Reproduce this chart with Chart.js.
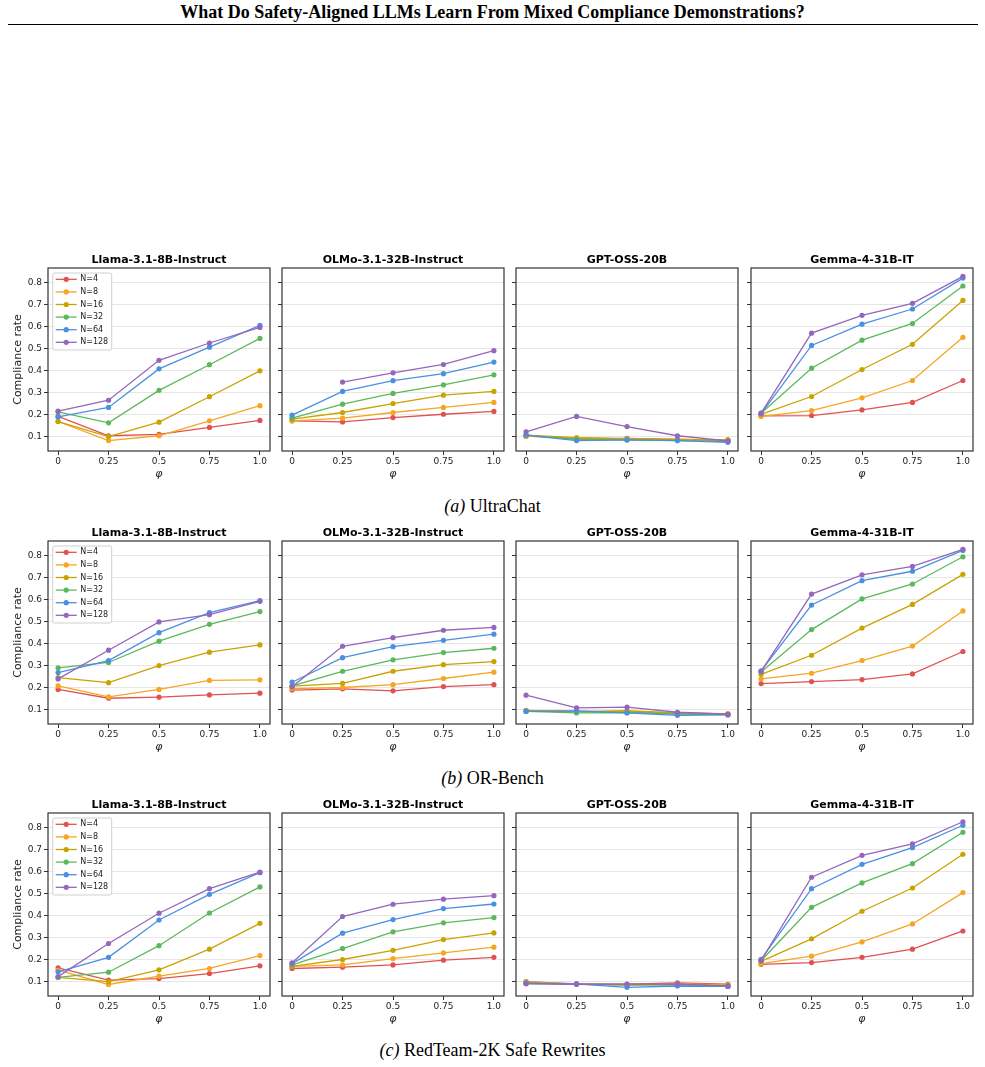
<!DOCTYPE html>
<html lang="en">
<head>
<meta charset="utf-8">
<title>Mixed Compliance Demonstrations</title>
<script src="https://cdn.jsdelivr.net/npm/chart.js@4.4.1/dist/chart.umd.min.js"></script>
<style>
body { margin: 0; background: #fff; }
#page { position: relative; width: 985px; height: 1067px; overflow: hidden; background: #fff; }
.head { position: absolute; left: 0; top: 2px; width: 985px; text-align: center; font-family: "Liberation Serif", serif; font-weight: bold; font-size: 18px; color: #000; }
.rule { position: absolute; left: 8px; top: 24px; width: 970px; border-top: 1.5px solid #000; }
.cap { position: absolute; left: 0; width: 985px; text-align: center; font-family: "Liberation Serif", serif; font-size: 18px; color: #000; }
canvas.panel { position: absolute; }
</style>
</head>
<body>
<div id="page">
  <div class="head">What Do Safety-Aligned LLMs Learn From Mixed Compliance Demonstrations?</div>
  <div class="rule"></div>
  <div class="cap" style="top:496px"><i>(a)</i> UltraChat</div>
  <div class="cap" style="top:768px"><i>(b)</i> OR-Bench</div>
  <div class="cap" style="top:1040px"><i>(c)</i> RedTeam-2K Safe Rewrites</div>
</div>
<script>
// x values and labels
const phi = [0, 0.25, 0.5, 0.75, 1.0];
const phiLabels = ['0', '0.25', '0.5', '0.75', '1.0'];
const yTicks = [0.1, 0.2, 0.3, 0.4, 0.5, 0.6, 0.7, 0.8];
const seriesNames = ['N=4', 'N=8', 'N=16', 'N=32', 'N=64', 'N=128'];
const seriesColors = ['#e05252', '#f5a623', '#c9a300', '#5cb85c', '#4a90e2', '#9467bd'];
const modelNames = ['Llama-3.1-8B-Instruct', 'OLMo-3.1-32B-Instruct', 'GPT-OSS-20B', 'Gemma-4-31B-IT'];

// (a) UltraChat  -- one row per N, one column per phi
const uc_llama = [
  [0.190, 0.102, 0.108, 0.140, 0.172],
  [0.167, 0.080, 0.102, 0.170, 0.239],
  [0.167, 0.098, 0.164, 0.280, 0.398],
  [0.211, 0.161, 0.309, 0.426, 0.546],
  [0.188, 0.231, 0.407, 0.506, 0.605],
  [0.214, 0.264, 0.446, 0.525, 0.596]
];
const uc_olmo = [
  [0.170, 0.165, 0.185, 0.200, 0.213],
  [0.170, 0.182, 0.208, 0.231, 0.254],
  [0.178, 0.208, 0.249, 0.287, 0.304],
  [0.182, 0.246, 0.295, 0.334, 0.380],
  [0.196, 0.304, 0.353, 0.385, 0.438],
  [null, 0.347, 0.389, 0.427, 0.490]
];
const uc_gpt = [
  [0.100, 0.090, 0.090, 0.085, 0.080],
  [0.100, 0.092, 0.088, 0.085, 0.083],
  [0.105, 0.093, 0.088, 0.085, 0.083],
  [0.105, 0.085, 0.083, 0.080, 0.075],
  [0.105, 0.080, 0.083, 0.080, 0.072],
  [0.120, 0.190, 0.144, 0.102, 0.079]
];
const uc_gemma = [
  [0.193, 0.194, 0.220, 0.254, 0.354],
  [0.190, 0.217, 0.275, 0.354, 0.551],
  [0.200, 0.281, 0.404, 0.519, 0.719],
  [0.205, 0.410, 0.538, 0.614, 0.785],
  [0.202, 0.514, 0.611, 0.680, 0.821],
  [0.205, 0.570, 0.651, 0.706, 0.829]
];

// (b) OR-Bench
const or_llama = [
  [0.190, 0.150, 0.155, 0.165, 0.173],
  [0.206, 0.156, 0.190, 0.231, 0.234],
  [0.244, 0.221, 0.299, 0.360, 0.393],
  [0.288, 0.313, 0.410, 0.487, 0.545],
  [0.267, 0.322, 0.449, 0.540, 0.595],
  [0.238, 0.369, 0.498, 0.531, 0.592]
];
const or_olmo = [
  [0.187, 0.193, 0.184, 0.203, 0.212],
  [0.194, 0.199, 0.212, 0.240, 0.269],
  [0.205, 0.218, 0.273, 0.303, 0.317],
  [0.206, 0.273, 0.325, 0.358, 0.378],
  [0.223, 0.335, 0.385, 0.414, 0.442],
  [0.202, 0.387, 0.426, 0.460, 0.473]
];
const or_gpt = [
  [0.093, 0.090, 0.088, 0.080, 0.078],
  [0.094, 0.090, 0.090, 0.082, 0.080],
  [0.095, 0.088, 0.093, 0.083, 0.078],
  [0.090, 0.083, 0.085, 0.078, 0.075],
  [0.090, 0.092, 0.083, 0.072, 0.074],
  [0.164, 0.106, 0.109, 0.086, 0.077]
];
const or_gemma = [
  [0.217, 0.226, 0.235, 0.261, 0.363],
  [0.238, 0.264, 0.322, 0.388, 0.548],
  [0.259, 0.346, 0.470, 0.578, 0.715],
  [0.270, 0.463, 0.603, 0.671, 0.795],
  [0.275, 0.575, 0.686, 0.729, 0.824],
  [0.272, 0.625, 0.713, 0.751, 0.829]
];

// (c) RedTeam-2K Safe Rewrites
const rt_llama = [
  [0.161, 0.105, 0.112, 0.135, 0.170],
  [0.150, 0.085, 0.123, 0.158, 0.217],
  [0.117, 0.098, 0.152, 0.246, 0.364],
  [0.117, 0.141, 0.262, 0.411, 0.530],
  [0.143, 0.209, 0.379, 0.496, 0.595],
  [0.121, 0.272, 0.410, 0.522, 0.597]
];
const rt_olmo = [
  [0.158, 0.164, 0.174, 0.196, 0.209],
  [0.168, 0.174, 0.203, 0.229, 0.255],
  [0.168, 0.199, 0.241, 0.290, 0.320],
  [0.174, 0.249, 0.325, 0.366, 0.390],
  [0.180, 0.319, 0.381, 0.431, 0.452],
  [0.184, 0.395, 0.451, 0.474, 0.490]
];
const rt_gpt = [
  [0.098, 0.088, 0.086, 0.092, 0.086],
  [0.097, 0.086, 0.083, 0.088, 0.083],
  [0.095, 0.087, 0.082, 0.085, 0.080],
  [0.092, 0.087, 0.085, 0.083, 0.080],
  [0.090, 0.088, 0.072, 0.078, 0.076],
  [0.088, 0.086, 0.087, 0.088, 0.076]
];
const rt_gemma = [
  [0.177, 0.185, 0.209, 0.246, 0.329],
  [0.180, 0.214, 0.279, 0.361, 0.504],
  [0.190, 0.293, 0.419, 0.525, 0.679],
  [0.193, 0.437, 0.548, 0.636, 0.779],
  [0.200, 0.522, 0.633, 0.709, 0.811],
  [0.194, 0.574, 0.674, 0.726, 0.827]
];

const rows = [
  [uc_llama, uc_olmo, uc_gpt, uc_gemma],
  [or_llama, or_olmo, or_gpt, or_gemma],
  [rt_llama, rt_olmo, rt_gpt, rt_gemma]
];

Chart.defaults.font.family = '"DejaVu Sans", sans-serif';
Chart.defaults.color = '#222';

// layout of the grid (plot frames)
const colLeft = [48, 282, 516, 751];
const rowTop = [268, 541, 813];
const plotW = 222, plotH = 183;
const titleH = 19, xAxisH = 29, padRight = 4;
const yMin = 0.0325, yMax = 0.867;

// box round the plot area, like matplotlib spines
const frame = {
  id: 'frame',
  afterDraw(chart) {
    const a = chart.chartArea, c = chart.ctx;
    c.save();
    c.strokeStyle = '#333';
    c.lineWidth = 1.2;
    c.strokeRect(a.left, a.top, a.right - a.left, a.bottom - a.top);
    c.restore();
  }
};

// legend in the upper left corner of the plot
const insetLegend = {
  id: 'insetLegend',
  afterDatasetsDraw(chart, args, opts) {
    if (!opts.show) return;
    const a = chart.chartArea, c = chart.ctx;
    const x0 = a.left + 4.7, y0 = a.top + 5, w = 59, h = 77;
    c.save();
    c.fillStyle = 'rgba(255,255,255,0.85)';
    c.strokeStyle = '#d0d0d0';
    c.lineWidth = 1;
    c.beginPath();
    c.roundRect(x0, y0, w, h, 2);
    c.fill();
    c.stroke();
    c.font = '8px "DejaVu Sans"';
    c.textBaseline = 'middle';
    chart.data.datasets.forEach((ds, i) => {
      const yy = y0 + 6.3 + i * 12.6;
      c.strokeStyle = ds.borderColor;
      c.lineWidth = 1.3;
      c.beginPath(); c.moveTo(x0 + 3, yy); c.lineTo(x0 + 24, yy); c.stroke();
      c.fillStyle = ds.borderColor;
      c.beginPath(); c.arc(x0 + 13.5, yy, 2.6, 0, Math.PI * 2); c.fill();
      c.fillStyle = '#222';
      c.fillText(ds.label, x0 + 27.5, yy);
    });
    c.restore();
  }
};

const page = document.getElementById('page');

function makePanel(row, col, values) {
  const yW = col === 0 ? 48 : 6;
  const cv = document.createElement('canvas');
  cv.className = 'panel';
  cv.width = yW + plotW + padRight;
  cv.height = titleH + plotH + xAxisH;
  cv.style.left = (colLeft[col] - yW) + 'px';
  cv.style.top = (rowTop[row] - titleH) + 'px';
  page.appendChild(cv);

  new Chart(cv, {
    type: 'line',
    data: {
      datasets: seriesNames.map((name, i) => ({
        label: name,
        data: phi.map((x, j) => ({ x: x, y: values[i][j] })),
        borderColor: seriesColors[i],
        backgroundColor: seriesColors[i],
        borderWidth: 1.3,
        pointRadius: 2.6,
        pointBorderWidth: 0,
        pointHoverRadius: 2.6,
        order: seriesNames.length - i
      }))
    },
    options: {
      responsive: false,
      animation: false,
      devicePixelRatio: 1,
      events: [],
      layout: { padding: { left: 0, right: padRight, top: 0, bottom: 0 } },
      plugins: {
        legend: { display: false },
        tooltip: { enabled: false },
        title: {
          display: true, text: modelNames[col], color: '#000', fullSize: false,
          font: { size: 11, weight: 'bold', lineHeight: '14px' },
          padding: { top: 4, bottom: 1 }
        },
        insetLegend: { show: col === 0 }
      },
      scales: {
        x: {
          type: 'linear', min: -0.05, max: 1.05,
          afterBuildTicks: s => { s.ticks = phi.map(v => ({ value: v })); },
          afterFit: s => { s.height = xAxisH; },
          ticks: {
            callback: v => phiLabels[phi.indexOf(v)],
            font: { size: 9 }, color: '#222', padding: 1, maxRotation: 0, autoSkip: false
          },
          grid: { drawOnChartArea: false, drawTicks: true, tickLength: 4, tickColor: '#333', tickWidth: 1 },
          border: { display: false },
          title: {
            display: true, text: 'φ', color: '#222',
            font: { size: 11, style: 'italic', lineHeight: '12px' },
            padding: { top: 0, bottom: 0 }
          }
        },
        y: {
          min: yMin, max: yMax,
          afterBuildTicks: s => { s.ticks = yTicks.map(v => ({ value: v })); },
          afterFit: s => { s.width = yW; },
          ticks: {
            display: col === 0,
            callback: v => v.toFixed(1),
            font: { size: 9 }, color: '#222', padding: 2
          },
          grid: { color: '#e6e6e6', lineWidth: 1, drawTicks: true, tickLength: 4, tickColor: '#333', tickWidth: 1 },
          border: { display: false },
          title: {
            display: col === 0, text: 'Compliance rate', color: '#222',
            font: { size: 11, lineHeight: '12px' },
            padding: { top: 12, bottom: 0 }
          }
        }
      }
    },
    plugins: [frame, insetLegend]
  });
}

rows.forEach((panels, r) => panels.forEach((vals, c) => makePanel(r, c, vals)));
</script>
</body>
</html>
